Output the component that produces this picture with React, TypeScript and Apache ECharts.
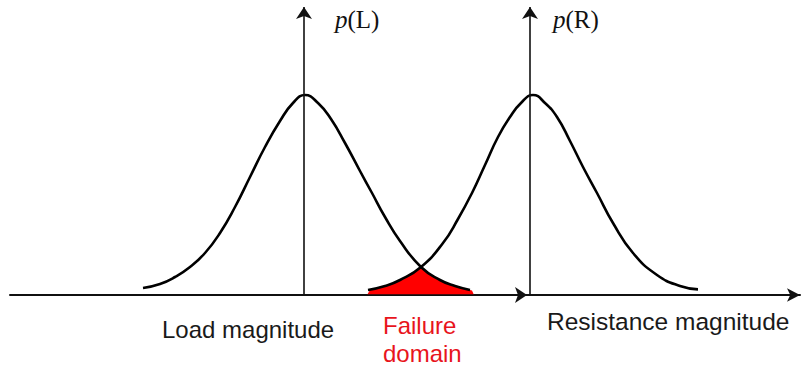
import React, { useEffect, useRef } from "react";
import * as echarts from "echarts";

// Load distribution p(L): magnitude (x) and relative density (y)
const loadX = [143, 160, 175, 190, 205, 220, 235, 250, 265, 280, 293, 305, 318, 331, 345, 360, 372, 385, 400, 421, 440, 455, 470];
const loadP = [0.035, 0.055, 0.09, 0.14, 0.21, 0.31, 0.44, 0.59, 0.74, 0.87, 0.96, 1.0, 0.96, 0.88, 0.76, 0.62, 0.51, 0.39, 0.27, 0.14, 0.075, 0.045, 0.025];

// Resistance distribution p(R)
const resX = [368, 385, 400, 421, 443, 458, 472, 485, 498, 510, 521, 533, 545, 557, 570, 583, 597, 613, 633, 657, 680, 698];
const resP = [0.025, 0.045, 0.075, 0.14, 0.26, 0.38, 0.51, 0.65, 0.79, 0.89, 0.96, 1.0, 0.96, 0.89, 0.77, 0.64, 0.51, 0.36, 0.21, 0.1, 0.045, 0.028];

// Failure domain (overlap of the two tails)
const failX = [367, 370, 385, 400, 410, 421, 432, 445, 458, 472, 474];
const failP = [0.0, 0.025, 0.045, 0.075, 0.105, 0.14, 0.1, 0.065, 0.04, 0.022, 0.0];

// Axes: x range, vertical axis positions, arrow top
const xRange = [10, 800];
const midArrowX = 527;
const loadAxisX = 304;
const resAxisX = 530;
const axisTop = 1.44;

const labelLoadAxis = "p(L)";
const labelResAxis = "p(R)";
const labelLoad = "Load magnitude";
const labelFailure = ["Failure", "domain"];
const labelResistance = "Resistance magnitude";

const zip = (xs: number[], ys: number[]) => xs.map((x, i) => [x, ys[i]]);

export default function App() {
  const ref = useRef<HTMLDivElement>(null);
  useEffect(() => {
    if (!ref.current) return;
    const chart = echarts.init(ref.current, null, { renderer: "svg" });
    const axisLineStyle = { color: "#111", width: 1.6, type: "solid" as const };
    const sans = '"Liberation Sans", Arial, sans-serif';
    const serif = '"Liberation Serif", "Times New Roman", serif';
    const pLabel = (t: string) => "{i|p}{n|" + t.slice(1) + "}";
    const pRich = {
      i: { fontStyle: "italic", fontFamily: serif, fontSize: 25, fill: "#111" },
      n: { fontFamily: serif, fontSize: 25, fill: "#111" },
    };
    chart.setOption({
      animation: false,
      backgroundColor: "#ffffff",
      grid: { left: 10, right: 2, top: 5, bottom: 75 },
      xAxis: {
        type: "value",
        min: xRange[0],
        max: xRange[1],
        axisLine: {
          show: true,
          symbol: ["none", "arrow"],
          symbolSize: [10, 13],
          lineStyle: { color: "#111", width: 2 },
        },
        axisTick: { show: false },
        axisLabel: { show: false },
        splitLine: { show: false },
      },
      yAxis: {
        type: "value",
        min: 0,
        max: 1.45,
        show: false,
        splitLine: { show: false },
      },
      series: [
        {
          type: "line",
          name: "Failure domain",
          data: zip(failX, failP),
          symbol: "none",
          smooth: false,
          lineStyle: { width: 0, color: "#ff0000" },
          areaStyle: { color: "#ff0000", opacity: 1 },
          z: 1,
          markLine: {
            silent: true,
            symbol: ["none", "arrow"],
            symbolSize: 12,
            label: { show: false },
            lineStyle: axisLineStyle,
            data: [
              [{ coord: [xRange[0], 0] }, { coord: [midArrowX, 0] }],
              [{ coord: [loadAxisX, 0] }, { coord: [loadAxisX, axisTop] }],
              [{ coord: [resAxisX, 0] }, { coord: [resAxisX, axisTop] }],
            ],
          },
        },
        {
          type: "line",
          name: "p(L)",
          data: zip(loadX, loadP),
          symbol: "none",
          smooth: true,
          lineStyle: { color: "#000", width: 2.6 },
          z: 3,
        },
        {
          type: "line",
          name: "p(R)",
          data: zip(resX, resP),
          symbol: "none",
          smooth: true,
          lineStyle: { color: "#000", width: 2.6 },
          z: 3,
        },
      ],
      graphic: [
        {
          type: "text",
          x: 335,
          y: 19,
          style: {
            text: pLabel(labelLoadAxis),
            textAlign: "left",
            textVerticalAlign: "middle",
            fill: "#111",
            rich: pRich,
          },
        },
        {
          type: "text",
          x: 553,
          y: 19,
          style: {
            text: pLabel(labelResAxis),
            textAlign: "left",
            textVerticalAlign: "middle",
            fill: "#111",
            rich: pRich,
          },
        },
        {
          type: "text",
          x: 162,
          y: 329,
          style: {
            text: labelLoad,
            font: "24px " + sans,
            fill: "#1a1a1a",
            textAlign: "left",
            textVerticalAlign: "middle",
          },
        },
        {
          type: "text",
          x: 383,
          y: 325,
          style: {
            text: labelFailure[0],
            font: "24px " + sans,
            fill: "#e8141c",
            textAlign: "left",
            textVerticalAlign: "middle",
          },
        },
        {
          type: "text",
          x: 383,
          y: 353,
          style: {
            text: labelFailure[1],
            font: "24px " + sans,
            fill: "#e8141c",
            textAlign: "left",
            textVerticalAlign: "middle",
          },
        },
        {
          type: "text",
          x: 547,
          y: 321,
          style: {
            text: labelResistance,
            font: "24.5px " + sans,
            fill: "#1a1a1a",
            textAlign: "left",
            textVerticalAlign: "middle",
          },
        },
      ],
    });
    return () => chart.dispose();
  }, []);
  return (
    <div
      ref={ref}
      style={{ position: "fixed", left: 0, top: 0, width: 802, height: 370, background: "#fff" }}
    />
  );
}
